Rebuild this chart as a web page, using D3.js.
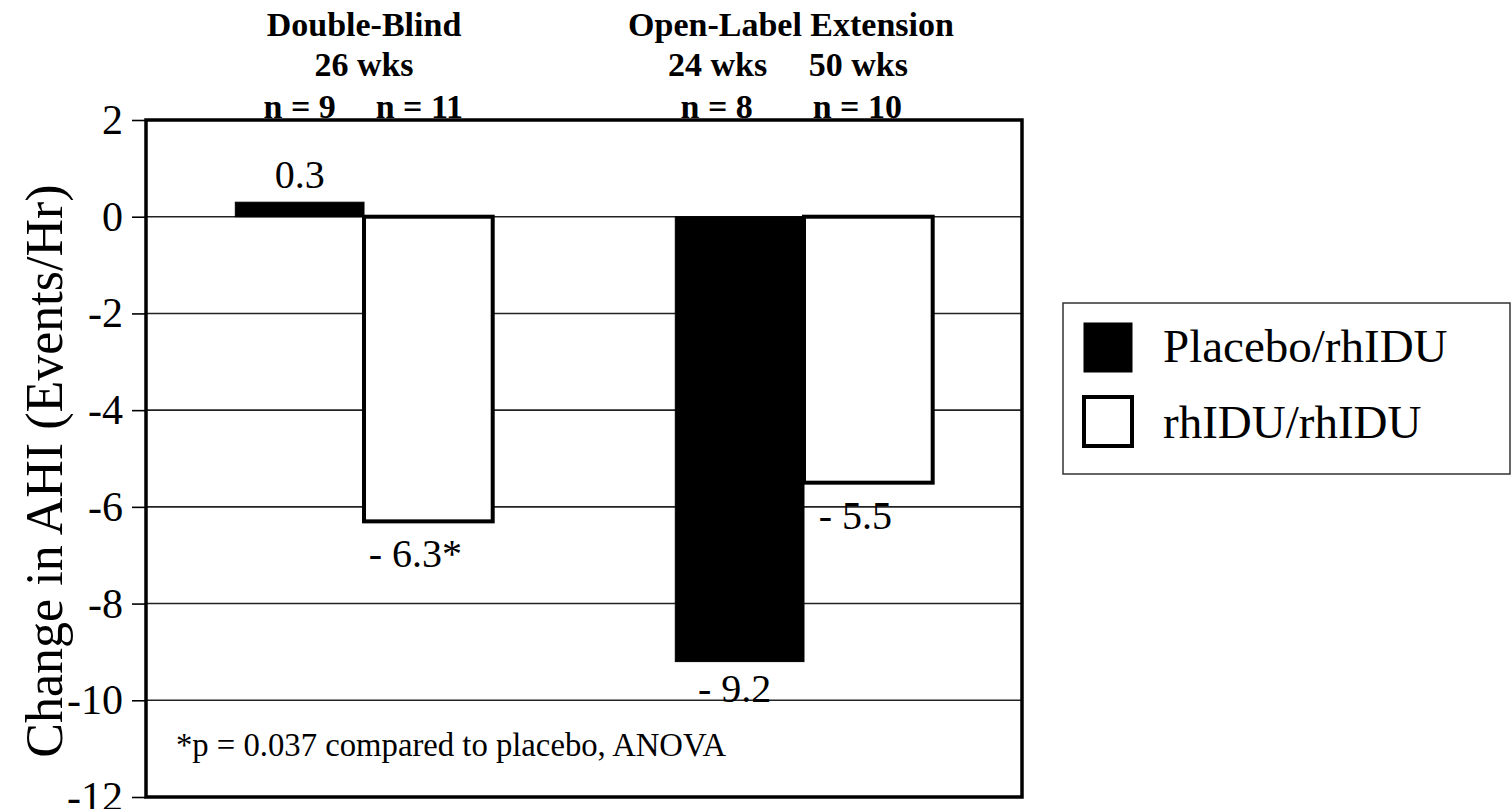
<!DOCTYPE html>
<meta charset="utf-8">
<script src="https://d3js.org/d3.v7.min.js"></script>
<style>
  body { margin: 0; background: #fff; }
  text { font-family: "Liberation Serif", "Times New Roman", serif; fill: #000; }
</style>
<div id="chart"></div>
<script>

// data
var periods = ["Double-Blind", "Open-Label Extension"];
var weeks = [["26 wks"], ["24 wks", "50 wks"]];
var groups = ["Placebo/rhIDU", "rhIDU/rhIDU"];
var placeboVals = [0.3, -9.2];
var rhiduVals = [-6.3, -5.5];
var nPlacebo = ["n = 9", "n = 8"];
var nRhidu = ["n = 11", "n = 10"];
var valueLabels = [["0.3", "- 6.3*"], ["- 9.2", "- 5.5"]];
var yTicks = [2, 0, -2, -4, -6, -8, -10, -12];
var footnote = "*p = 0.037 compared to placebo, ANOVA";

var W = 1512, H = 809;
var margin = {top: 120, left: 146, right: 490, bottom: 12};
var width = W - margin.left - margin.right;
var height = H - margin.top - margin.bottom;

var svg = d3.select("#chart").append("svg")
  .attr("width", W).attr("height", H);
var g = svg.append("g")
  .attr("transform", "translate(" + margin.left + "," + margin.top + ")");

var y = d3.scaleLinear().domain([-12, 2]).range([height, 0]);
var x0 = d3.scaleBand().domain(periods).range([0, width])
  .paddingInner(0.415).paddingOuter(0.203);
var x1 = d3.scaleBand().domain(groups).range([0, x0.bandwidth()]);
var color = d3.scaleOrdinal().domain(groups).range(["#000", "#fff"]);

// gridlines
g.append("g")
  .selectAll("line").data(yTicks).enter().append("line")
  .attr("x1", 0).attr("x2", width)
  .attr("y1", d => y(d)).attr("y2", d => y(d))
  .attr("stroke", "#222").attr("stroke-width", 1.6);

// y axis
var yAxis = g.append("g")
  .call(d3.axisLeft(y).tickValues(yTicks).tickSize(14).tickPadding(9)
    .tickFormat(d => String(d)));
yAxis.select(".domain").remove();
yAxis.selectAll(".tick line").attr("stroke", "#000").attr("stroke-width", 1.6);
yAxis.selectAll(".tick text")
  .style("font-family", "Liberation Serif").style("font-size", "42px").attr("fill", "#000");

// bars
var rows = periods.map((p, i) => ({period: p, vals: [placeboVals[i], rhiduVals[i]], labels: valueLabels[i]}));
var grp = g.selectAll(".grp").data(rows).enter().append("g")
  .attr("transform", d => "translate(" + x0(d.period) + ",0)");

grp.selectAll("rect")
  .data(d => d.vals.map((v, j) => ({key: groups[j], val: v})))
  .enter().append("rect")
  .attr("x", d => x1(d.key))
  .attr("width", x1.bandwidth())
  .attr("y", d => y(Math.max(0, d.val)))
  .attr("height", d => Math.abs(y(d.val) - y(0)))
  .attr("fill", d => color(d.key))
  .attr("stroke", "#000")
  .attr("stroke-width", d => d.key === groups[1] ? 4 : 1);

// value labels
grp.selectAll(".val")
  .data(d => d.vals.map((v, j) => ({key: groups[j], val: v, label: d.labels[j]})))
  .enter().append("text")
  .attr("x", d => x1(d.key) + x1.bandwidth() / 2 + (d.val < 0 ? (d.key === groups[0] ? -5 : -13) : 0))
  .attr("y", d => d.val > 0 ? y(d.val) - 14 : y(d.val) + (d.key === groups[0] ? 40 : 46))
  .attr("text-anchor", "middle")
  .style("font-size", "40px")
  .text(d => d.label);

// frame
g.append("rect")
  .attr("x", 0).attr("y", 0).attr("width", width).attr("height", height)
  .attr("fill", "none").attr("stroke", "#000").attr("stroke-width", 3.5);

// header
var hdr = svg.append("g").attr("transform", "translate(" + margin.left + ",0)")
  .style("font-weight", "bold").style("font-size", "34px");
var wkShift = [-22, -10], nShift = [[0, -9], [-23, -11]];
periods.forEach(function(p, i) {
  var cx = x0(p) + x0.bandwidth() / 2;
  hdr.append("text").attr("x", cx - (i ? 13 : 0)).attr("y", 36).attr("text-anchor", "middle").text(p);
  if (weeks[i].length === 1) {
    hdr.append("text").attr("x", cx).attr("y", 76).attr("text-anchor", "middle").text(weeks[i][0]);
  } else {
    weeks[i].forEach(function(w, j) {
      hdr.append("text").attr("x", x0(p) + x1(groups[j]) + x1.bandwidth() / 2 + wkShift[j])
        .attr("y", 76).attr("text-anchor", "middle").text(w);
    });
  }
  [nPlacebo[i], nRhidu[i]].forEach(function(n, j) {
    hdr.append("text").attr("x", x0(p) + x1(groups[j]) + x1.bandwidth() / 2 + nShift[i][j])
      .attr("y", 118).attr("text-anchor", "middle").text(n);
  });
});

// y title
svg.append("text")
  .attr("transform", "translate(62," + 471 + ") rotate(-90)")
  .attr("text-anchor", "middle")
  .style("font-size", "52px")
  .text("Change in AHI (Events/Hr)");

// footnote
g.append("text").attr("x", 30).attr("y", 756 - margin.top)
  .style("font-size", "33px")
  .attr("textLength", 550).attr("lengthAdjust", "spacingAndGlyphs")
  .text(footnote);

// legend
var lg = svg.append("g").attr("transform", "translate(1063,303)");
lg.append("rect").attr("width", 447).attr("height", 171)
  .attr("fill", "#fff").attr("stroke", "#333").attr("stroke-width", 1.5);
groups.forEach(function(k, i) {
  lg.append("rect").attr("x", 21).attr("y", 20 + i * 74).attr("width", 48).attr("height", 49)
    .attr("fill", color(k)).attr("stroke", "#000").attr("stroke-width", i ? 4 : 1);
  lg.append("text").attr("x", 100).attr("y", 59 + i * 76)
    .style("font-size", "47px").text(k);
});

</script>
